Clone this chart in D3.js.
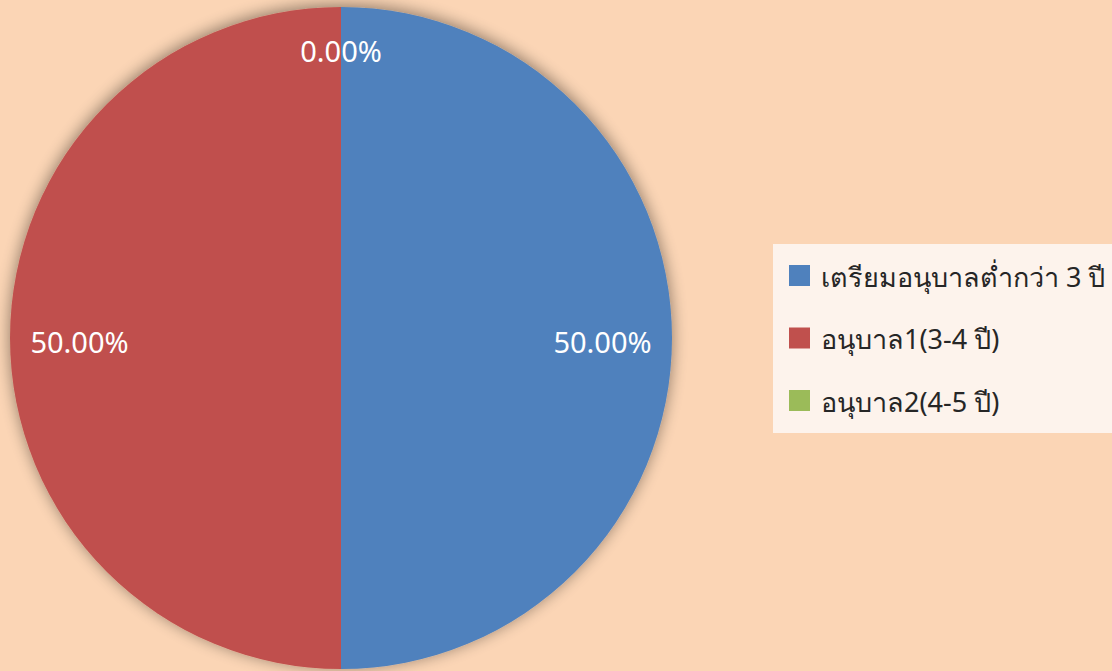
<!DOCTYPE html>
<html>
<head>
<meta charset="utf-8">
<script src="https://cdn.jsdelivr.net/npm/d3@7"></script>
<style>
  html, body { margin: 0; padding: 0; background: #FBD5B5; }
  svg { display: block; }
</style>
</head>
<body>
<svg id="chart" width="1112" height="671"></svg>
<script>
const categories = ["เตรียมอนุบาลต่ำกว่า 3 ปี", "อนุบาล1(3-4 ปี)", "อนุบาล2(4-5 ปี)"];
const values = [50, 50, 0];
const labels = ["50.00%", "50.00%", "0.00%"];
const colors = ["#4F81BD", "#C0504D", "#9BBB59"];

const W = 1112, H = 671;
const cx = 341, cy = 338, R = 331;
const font = "'Noto Sans', 'DejaVu Sans', sans-serif";

const svg = d3.select("#chart");
svg.append("rect").attr("width", W).attr("height", H).attr("fill", "#FBD5B5");

const defs = svg.append("defs");
const f = defs.append("filter").attr("id", "shadow")
  .attr("x", "-10%").attr("y", "-10%").attr("width", "120%").attr("height", "120%");
f.append("feGaussianBlur").attr("in", "SourceAlpha").attr("stdDeviation", 8).attr("result", "b");
f.append("feOffset").attr("in", "b").attr("dx", 0).attr("dy", -2).attr("result", "o");
f.append("feComponentTransfer").attr("in", "o").attr("result", "s")
  .append("feFuncA").attr("type", "linear").attr("slope", 0.45);
const m = f.append("feMerge");
m.append("feMergeNode").attr("in", "s");
m.append("feMergeNode").attr("in", "SourceGraphic");

const pie = d3.pie().sort(null).value(d => d);
const arcs = pie(values);
const arc = d3.arc().innerRadius(0).outerRadius(R);

const g = svg.append("g").attr("transform", `translate(${cx},${cy})`);
const slices = g.append("g").attr("filter", "url(#shadow)");
slices.selectAll("path").data(arcs).join("path")
  .attr("d", arc)
  .attr("fill", (d, i) => colors[i]);

g.selectAll("text.lbl").data(arcs).join("text")
  .attr("class", "lbl")
  .attr("transform", d => {
    const lr = d.value === 0 ? R * 0.87 : R * 0.79;
    const a = d3.arc().innerRadius(lr).outerRadius(lr);
    const [x, y] = a.centroid(d);
    return `translate(${x},${y + (d.value === 0 ? 0 : 3)})`;
  })
  .attr("text-anchor", "middle")
  .attr("dominant-baseline", "central")
  .attr("fill", "#FFFFFF")
  .style("font-family", font)
  .style("font-size", "29px")
  .text((d, i) => labels[i]);

// Legend
const lx = 773, ly = 244, lw = 339, lh = 189;
const leg = svg.append("g");
leg.append("rect").attr("x", lx).attr("y", ly).attr("width", lw).attr("height", lh).attr("fill", "#FDF3EC");
const ys = d3.scalePoint().domain(categories).range([276, 401]);
const items = leg.selectAll("g.item").data(categories).join("g").attr("class", "item")
  .attr("transform", d => `translate(${lx + 16},${ys(d)})`);
items.append("rect").attr("x", 0).attr("y", -11).attr("width", 21).attr("height", 21)
  .attr("fill", (d, i) => colors[i]);
items.append("text").attr("x", 32).attr("y", 0)
  .attr("dominant-baseline", "central")
  .attr("fill", "#262626")
  .style("font-family", font)
  .style("font-size", "27px")
  .text(d => d);
</script>
</body>
</html>
